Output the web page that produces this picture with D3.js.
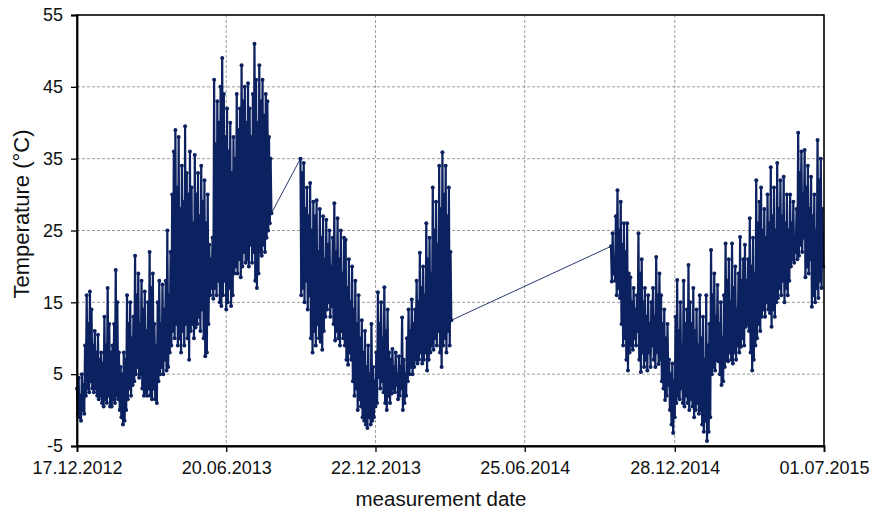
<!DOCTYPE html>
<html>
<head>
<meta charset="utf-8">
<script src="https://cdn.jsdelivr.net/npm/d3@7"></script>
<style>
  body { margin: 0; background: #fff; }
  text { font-family: "Liberation Sans", Arial, sans-serif; fill: #111; }
</style>
</head>
<body>
<svg id="chart" width="875" height="518"></svg>
<script>
// Logger readings: each segment is a run of 2-day blocks, one daily high then one daily low.
const seg1Start = "2012-12-17";
const seg1Hi = [3,4.5,2,5,3.5,9,16,12,16.5,14,9,11,8,10.5,7,8,6.5,13,9,17,12,8,9,12,19.5,15,8,6,5,8,7,16,12,15,10,13,21.5,16,19,12,18,14,16.5,11,15,22,17,19,12,9,15,18,12,17.5,14,18,25,16,22,30,36,39,31,38,28,34,29,39.5,33,30,36,31,26,35.5,30,33,27,34,29,32,26,30,23,21,24,46,37,43,40,45,49,44,38,42,36,40,33,38,35,44,39,42,48,43,45,40,45.5,42,38,44,51,46,40,48,43,46,41,44,43,38,35];
const seg1Lo = [-0.5,-1,-1.5,0,-0.5,2,3,2.5,4,3,2.5,3,2,1.5,2,1,0.5,1.5,1,2,0.5,0.5,1.5,1,2,1.5,0,-1,-2,-1.5,0,1.5,3,2,3.5,4,5,6,4.5,5,3,2,2.5,2,3,2,1.5,3,1.5,1,4,5,6,5,7,5.5,6,8,9,11,10,12,9,10,8,11,9,12,10,7,11,12,10,11.5,12,13,11,14,10,7.5,8,12,16,17,15.5,17,16,18,15,14.5,16,18,14,15,17,14.5,16,19,20,19,21,18.5,20,22,20.5,21,20,23,20.5,22,18,17,19,22,21.5,23,22,24,25,26,27.4];

const seg2Start = "2013-09-20";
const seg2Hi = [35,33,34.4,28,31,27,31.6,25,29,27,29.2,22,28,24,27,21,26.5,23,25,20,24,28.8,22,26.7,21,25,19,24,23.7,17,21,15,20,14,18,12,16,10,12.5,8,11,6,9,5,12,6,4,8,16.4,12,15,10,17.1,11,14,8,7,8.5,6,8,5,7.5,6,12.9,7,5,10,14,11,15.4,12,14,18,15,21.9,17,20,16,26,21,24,19,31,25,29,23,34,28,35.9,30,34,27,31,22];
const seg2Lo = [16,17,15,18,14,16,10,8,11,9,12,10,9.5,8.4,11,13,14,15,13,14.5,12,9.7,11,10,9,11,10,9,7,6.3,8,7,4,2,3,0,1.5,0.5,-1,-1.5,-2,-2.5,-1,-2,-1.5,-1,0.5,1,4.6,3,4,2.5,1,0,2,1,2.3,3,2.5,3.5,1.5,2,3,0,1,2,4,5,6,5,6,7,6.5,7,8,6.5,7,8,5.5,7,8,9,8.4,10,9,11,8,6,9,10,8,11,9,12.5];

const seg3Start = "2014-10-10";
const seg3Hi = [22.8,24.6,21,27,30.6,25,29,23,26,22,26,19,18.5,15,17,14,16,24.6,19,21,15,17,13,16,12,15,17,13,21.3,16,19,16,12,14,10,12,7,5,6.5,4,13,18.1,11,15,9,18,12,14,20.2,15,12,17,11,14,9,16,10,13,7,16,9,12,22.3,16,19,13,17.4,12,15,10,16,23.2,18,21,15,23.2,17,20,14,19,24.1,18,21,23,18,21,26.7,20,24,19,32,26,29,31,25,28,24,30,26,33.8,27,31,25,34.4,28,32,27,32.5,26,30,25,30,26,29,24,28,38.6,33,36,30,36.2,31,34,28,32.5,27,30,25,37.6,32,35,28];
const seg3Lo = [17.9,19,18,16,17,15.6,12,9,10,7,5.5,8,9,8.4,10,9,11,7,5.3,8,6,7,5.5,8,6,9,7,6,8,6.4,7,4,3,1.4,2,3.5,0,-2,-3.2,-1,1,2,1.5,3,1,0.5,2,1,0,1.5,0.5,-1,0,1,-0.5,0,-2,-3,-1.5,-4.3,-3,-1,5,6,5.5,7,6.8,5,3.5,4,6,7,6.8,8,7,6.5,8,7,9,8,8.8,10,9,11.6,12,11,8,5.5,7,9,10,12,11,13,14,13,15,14,13.5,11.6,14,13,15,15.6,17,16,18,15,17,16,18,20,21,20.5,22,21,21.5,23,22,24,18.5,20,19,21,14.4,16,15,17,15.6,18,17,20];

const segments = [
  { start: seg1Start, hi: seg1Hi, lo: seg1Lo },
  { start: seg2Start, hi: seg2Hi, lo: seg2Lo },
  { start: seg3Start, hi: seg3Hi, lo: seg3Lo }
];

const xTickDates = ["2012-12-17", "2013-06-20", "2013-12-22", "2014-06-25", "2014-12-28", "2015-07-01"];
const yTicks = [-5, 5, 15, 25, 35, 45, 55];
const yLabel = "Temperature (°C)";
const xLabel = "measurement date";

const parse = d3.utcParse("%Y-%m-%d");
const fmt = d3.utcFormat("%d.%m.%Y");

// Expand each segment into dated readings (high on day 2i, low on day 2i+1)
const runs = segments.map(s => {
  const t0 = parse(s.start);
  const pts = [];
  s.hi.forEach((h, i) => {
    pts.push({ date: d3.utcDay.offset(t0, 2 * i), value: h });
    pts.push({ date: d3.utcDay.offset(t0, 2 * i + 1), value: s.lo[i] });
  });
  return pts;
});
const points = runs.flat();

const svg = d3.select("#chart");
const margin = { left: 77, top: 15, right: 51, bottom: 72 };
const W = 875 - margin.left - margin.right;
const H = 518 - margin.top - margin.bottom;
const ink = "#0c2160";

const x = d3.scaleUtc()
  .domain([parse(xTickDates[0]), parse(xTickDates[xTickDates.length - 1])])
  .range([0, W]);
const y = d3.scaleLinear().domain([-5, 55]).range([H, 0]);

const g = svg.append("g").attr("transform", `translate(${margin.left},${margin.top})`);

// dashed grid
g.append("g").selectAll("line").data(yTicks.slice(1, -1)).join("line")
  .attr("x1", 0).attr("x2", W)
  .attr("y1", d => y(d)).attr("y2", d => y(d))
  .attr("stroke", "#9c9c9c").attr("stroke-width", 1).attr("stroke-dasharray", "3,2");
g.append("g").selectAll("line").data(xTickDates.slice(1, -1).map(parse)).join("line")
  .attr("x1", d => x(d)).attr("x2", d => x(d))
  .attr("y1", 0).attr("y2", H)
  .attr("stroke", "#9c9c9c").attr("stroke-width", 1).attr("stroke-dasharray", "3,2");

// series: thin line through every reading (also bridges the logging gaps),
// then heavier strokes and dot markers over each continuous run
const line = d3.line().x(d => x(d.date)).y(d => y(d.value));
g.append("path").datum(points)
  .attr("d", line).attr("fill", "none")
  .attr("stroke", "#2b3a6e").attr("stroke-width", 1);
g.append("g").selectAll("path").data(runs).join("path")
  .attr("d", line).attr("fill", "none")
  .attr("stroke", ink).attr("stroke-width", 2.2).attr("stroke-linejoin", "round");
g.append("g").selectAll("circle").data(points).join("circle")
  .attr("cx", d => x(d.date)).attr("cy", d => y(d.value))
  .attr("r", 2).attr("fill", ink);

// frame
g.append("rect").attr("x", 0).attr("y", 0).attr("width", W).attr("height", H)
  .attr("fill", "none").attr("stroke", "#000").attr("stroke-width", 1.6);

// axes
const xAxis = d3.axisBottom(x)
  .tickValues(xTickDates.map(parse)).tickFormat(fmt)
  .tickSize(6).tickPadding(9);
const xg = g.append("g").attr("transform", `translate(0,${H})`).call(xAxis);
xg.select(".domain").attr("stroke", "#000").attr("stroke-width", 1.8);
xg.selectAll(".tick line").attr("stroke", "#000").attr("stroke-width", 1.3);
xg.selectAll(".tick text").attr("font-size", 18).attr("fill", "#111")
  .attr("font-family", "'Liberation Sans', Arial, sans-serif");

const yAxis = d3.axisLeft(y).tickValues(yTicks).tickFormat(d => String(d))
  .tickSize(6).tickPadding(8);
const yg = g.append("g").call(yAxis);
yg.select(".domain").attr("stroke", "#000").attr("stroke-width", 1.8);
yg.selectAll(".tick line").attr("stroke", "#000").attr("stroke-width", 1.3);
yg.selectAll(".tick text").attr("font-size", 18).attr("fill", "#111")
  .attr("font-family", "'Liberation Sans', Arial, sans-serif");

// axis titles
svg.append("text")
  .attr("transform", `translate(29,214) rotate(-90)`)
  .attr("text-anchor", "middle").attr("font-size", 22).text(yLabel);
svg.append("text")
  .attr("x", 441).attr("y", 506)
  .attr("text-anchor", "middle").attr("font-size", 20.5).text(xLabel);
</script>
</body>
</html>
